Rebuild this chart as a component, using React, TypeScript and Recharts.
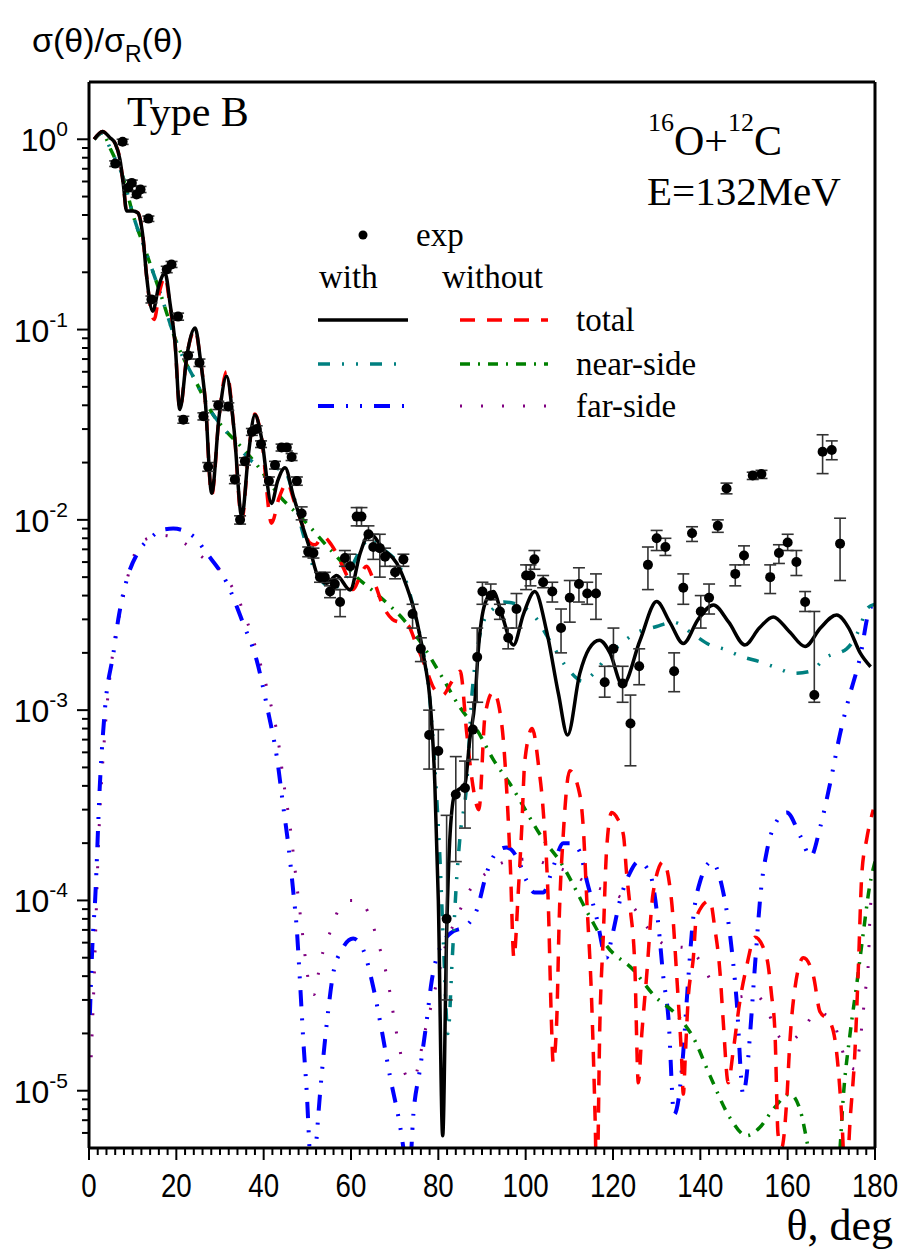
import React from "react";
import { ComposedChart, Line, Scatter, ErrorBar, XAxis, YAxis } from "recharts";

const W = 899;
const H = 1253;
const SERIF = '"Liberation Serif", "Times New Roman", serif';
const SANS = '"Liberation Sans", Arial, sans-serif';

// ticks
const X_MAJOR = [0, 20, 40, 60, 80, 100, 120, 140, 160, 180];
const X_MINOR_STEP = 2;
const Y_DECADES = [1e-5, 1e-4, 1e-3, 1e-2, 1e-1, 1];
const Y_EXPONENTS = ["-5", "-4", "-3", "-2", "-1", "0"];
const Y_MULT = [1, 2, 3, 4, 5, 6, 7, 8, 9];
const Y_MIN = 5e-6;
const Y_MAX = 2;

// experiment: [theta, value, low, high]
const expData: [number, number, number, number][] = [
  [6.0, 0.745, 0.72, 0.77], [7.7, 0.97, 0.94, 1.0], [9.0, 0.557, 0.54, 0.575],
  [9.8, 0.59, 0.57, 0.61], [10.9, 0.513, 0.495, 0.53], [11.8, 0.545, 0.525, 0.565],
  [13.6, 0.383, 0.37, 0.395], [14.3, 0.144, 0.138, 0.15], [17.8, 0.207, 0.199, 0.215],
  [18.9, 0.22, 0.212, 0.228], [20.4, 0.117, 0.112, 0.122], [21.6, 0.0336, 0.0322, 0.035],
  [22.7, 0.073, 0.07, 0.076], [25.3, 0.067, 0.064, 0.07], [26.2, 0.035, 0.0335, 0.0365],
  [27.3, 0.019, 0.018, 0.02], [29.6, 0.04, 0.038, 0.042], [31.9, 0.0394, 0.0376, 0.0412],
  [33.4, 0.0163, 0.0155, 0.0171], [34.6, 0.01, 0.0095, 0.0105], [35.7, 0.0203, 0.0194, 0.0212],
  [37.3, 0.029, 0.0278, 0.0302], [38.4, 0.03, 0.0288, 0.0312], [39.4, 0.025, 0.024, 0.026],
  [41.2, 0.016, 0.0152, 0.0168], [42.6, 0.0194, 0.0185, 0.0203], [44.1, 0.024, 0.023, 0.025],
  [45.3, 0.024, 0.023, 0.025], [46.4, 0.0214, 0.0205, 0.0223], [47.6, 0.016, 0.0152, 0.0168],
  [48.7, 0.0108, 0.01, 0.0117], [50.2, 0.0068, 0.0064, 0.0072], [51.4, 0.0067, 0.0063, 0.0071],
  [52.9, 0.005, 0.0047, 0.0053], [54.0, 0.005, 0.0047, 0.0053], [55.2, 0.0042, 0.0039, 0.0045],
  [56.3, 0.0046, 0.0043, 0.0049], [57.5, 0.0037, 0.0031, 0.0043], [58.6, 0.0063, 0.0057, 0.0069],
  [59.8, 0.0057, 0.005, 0.0066], [61.3, 0.0104, 0.0093, 0.0116], [62.4, 0.0104, 0.0093, 0.0116],
  [64.0, 0.0084, 0.0078, 0.0093], [65.1, 0.0072, 0.0062, 0.0084], [66.6, 0.0071, 0.005, 0.0084],
  [67.8, 0.0064, 0.0057, 0.0071], [70.1, 0.0053, 0.0049, 0.0057], [72.0, 0.0062, 0.0057, 0.0066],
  [74.1, 0.0032, 0.0027, 0.0036], [76.0, 0.0021, 0.0018, 0.0024], [77.9, 0.00074, 0.00049, 0.001],
  [80.0, 0.00061, 0.00049, 0.00079], [81.9, 0.00008, 0.00003, 0.00028], [84.0, 0.00036, 0.00016, 0.00057],
  [86.1, 0.00039, 0.00024, 0.00054], [87.9, 0.00079, 0.00055, 0.0011], [88.9, 0.0019, 0.0011, 0.0027],
  [90.1, 0.0042, 0.0036, 0.0047], [92.0, 0.004, 0.0038, 0.0046], [94.1, 0.0033, 0.003, 0.0036],
  [96.0, 0.0024, 0.0021, 0.0027], [97.9, 0.0034, 0.0027, 0.0041], [100.1, 0.0051, 0.0043, 0.0058],
  [101.1, 0.0051, 0.0045, 0.0058], [102.0, 0.0062, 0.0055, 0.0069], [104.0, 0.0047, 0.0044, 0.0051],
  [106.1, 0.0042, 0.0037, 0.0047], [108.1, 0.0027, 0.002, 0.0034], [110.1, 0.0039, 0.0029, 0.0048],
  [112.2, 0.0046, 0.0037, 0.0056], [114.1, 0.0041, 0.0036, 0.0047], [116.1, 0.0041, 0.003, 0.0052],
  [118.1, 0.0014, 0.00117, 0.0017], [120.1, 0.0021, 0.0017, 0.0027], [122.2, 0.00138, 0.0011, 0.0017],
  [124.0, 0.00085, 0.00051, 0.0012], [126.0, 0.0017, 0.00136, 0.0021], [128.0, 0.0058, 0.0043, 0.0072],
  [130.0, 0.008, 0.0069, 0.0088], [132.0, 0.0072, 0.0065, 0.008], [134.0, 0.0016, 0.00125, 0.002],
  [136.1, 0.0044, 0.0036, 0.0052], [138.1, 0.0085, 0.0077, 0.0092], [140.1, 0.0033, 0.0027, 0.004],
  [142.0, 0.0039, 0.0032, 0.0046], [144.0, 0.0093, 0.0086, 0.01], [146.0, 0.0146, 0.0137, 0.0156],
  [148.0, 0.0052, 0.0045, 0.0058], [150.0, 0.0065, 0.0058, 0.0073], [152.0, 0.0171, 0.0163, 0.0178],
  [154.0, 0.0174, 0.0165, 0.0182], [156.0, 0.005, 0.0041, 0.0058], [158.0, 0.0067, 0.0059, 0.0074],
  [160.0, 0.0076, 0.0069, 0.0084], [162.0, 0.006, 0.0051, 0.0069], [164.0, 0.0037, 0.0033, 0.0042],
  [166.1, 0.0012, 0.0011, 0.0033], [168.0, 0.0228, 0.0175, 0.028], [170.1, 0.0233, 0.0207, 0.026],
  [172.0, 0.0075, 0.0048, 0.0102],
];

// total, with (black solid)
const totalWith: [number, number][] = [
  [1.2, 1.0], [3.1, 1.1], [4.8, 1.02], [6.0, 0.95], [7.1, 0.78], [7.9, 0.57], [8.6, 0.42],
  [10.1, 0.42], [11.2, 0.41], [12.4, 0.3], [13.2, 0.19], [14.6, 0.125], [16.0, 0.17],
  [17.4, 0.198], [18.6, 0.135], [19.7, 0.085], [20.8, 0.038], [22.5, 0.075], [24.3, 0.102],
  [25.5, 0.07], [26.6, 0.043], [28.1, 0.0138], [29.8, 0.035], [31.5, 0.0568], [33.2, 0.03],
  [35.0, 0.0104], [36.5, 0.022], [38.0, 0.0357], [39.5, 0.027], [41.8, 0.0122], [43.2, 0.016],
  [44.9, 0.0188], [46.8, 0.0133], [48.7, 0.0096], [50.6, 0.007], [52.5, 0.005], [54.4, 0.00464],
  [56.7, 0.0051], [59.8, 0.00428], [62.1, 0.00668], [64.3, 0.0085], [67.4, 0.007], [70.5, 0.0059],
  [72.7, 0.0045], [75.0, 0.003], [76.9, 0.00177], [78.1, 0.00113], [79.2, 0.00041], [80.0, 0.0001],
  [81.0, 0.0000058], [81.9, 0.000067], [82.7, 0.000225], [83.8, 0.000365], [86.1, 0.00041],
  [87.2, 0.0007], [88.4, 0.00113], [89.1, 0.002], [90.7, 0.00364], [92.6, 0.0042], [94.5, 0.0032],
  [97.2, 0.0022], [99.5, 0.0032], [102.1, 0.0042], [104.8, 0.0026], [107.5, 0.00122],
  [109.6, 0.00074], [112.4, 0.00156], [114.5, 0.0021], [116.9, 0.00233], [119.3, 0.002],
  [122.2, 0.00135], [126.2, 0.00233], [130.0, 0.00372], [133.0, 0.0029], [136.1, 0.00224],
  [139.5, 0.003], [143.0, 0.00357], [146.5, 0.0029], [150.2, 0.0022], [153.5, 0.0027],
  [156.7, 0.00309], [160.3, 0.0026], [164.0, 0.00216], [167.5, 0.0027], [171.2, 0.00316],
  [174.0, 0.0027], [176.6, 0.002], [179.0, 0.00169],
];

// total, without (red dashed)
const totalWithout: [number, number][] = [
  [1.2, 1.0], [3.1, 1.1], [4.8, 1.02], [6.0, 0.95], [7.1, 0.78], [7.9, 0.57], [8.6, 0.42],
  [10.1, 0.42], [11.2, 0.41], [12.4, 0.3], [13.2, 0.19], [14.9, 0.113], [16.2, 0.16],
  [17.4, 0.19], [18.6, 0.13], [19.7, 0.085], [20.8, 0.038], [22.5, 0.075], [24.3, 0.1],
  [25.5, 0.07], [26.6, 0.043], [28.1, 0.0135], [29.8, 0.035], [31.5, 0.06], [33.2, 0.03],
  [35.0, 0.01], [36.5, 0.022], [38.0, 0.036], [39.5, 0.027], [41.8, 0.0096], [43.5, 0.013],
  [45.4, 0.0156], [47.0, 0.0125], [48.8, 0.0095], [50.5, 0.0076], [51.8, 0.0074], [53.5, 0.0082],
  [55.5, 0.0074], [57.5, 0.0061], [59.2, 0.005], [60.5, 0.0043], [62.0, 0.005], [63.5, 0.0057],
  [65.2, 0.0048], [67.4, 0.0035], [69.5, 0.003], [71.0, 0.0029], [73.0, 0.0028], [75.0, 0.0022],
  [77.0, 0.0017], [79.0, 0.0013], [81.0, 0.0012], [83.0, 0.0014], [85.0, 0.0016], [86.5, 0.00076],
  [87.6, 0.00045], [89.3, 0.0003], [90.7, 0.00094], [92.6, 0.00125], [94.5, 0.00085], [95.6, 0.0004],
  [96.5, 0.00015], [97.3, 0.00005], [98.3, 0.00011], [99.1, 0.00024], [99.8, 0.00054],
  [101.5, 0.0008], [103.0, 0.0005], [104.0, 0.0003], [105.2, 0.000093], [105.9, 0.000023],
  [106.3, 0.000014], [107.1, 0.000023], [107.7, 0.000082], [108.6, 0.00022], [110.1, 0.00048],
  [112.4, 0.00036], [113.2, 0.00024], [114.0, 0.0001], [115.1, 0.00003], [115.9, 0.0000072],
  [116.3, 0.000003], [117.0, 0.000023], [117.8, 0.000067], [118.5, 0.00018], [119.7, 0.00029],
  [121.0, 0.00027], [122.4, 0.00022], [123.1, 0.00014], [123.9, 0.000093], [125.0, 0.000045],
  [125.8, 0.000011], [126.6, 0.00002], [127.7, 0.00004], [129.2, 0.00011], [131.5, 0.00016],
  [133.4, 0.0001], [134.6, 0.00004], [135.7, 0.000015], [136.1, 0.0000096], [136.6, 0.000016],
  [137.2, 0.00003], [138.4, 0.00005], [139.1, 0.000082], [142.2, 0.0001], [143.3, 0.000072],
  [144.5, 0.000042], [145.2, 0.000024], [146.4, 0.000011], [147.5, 0.000016], [149.1, 0.00003],
  [150.6, 0.000045], [152.5, 0.000064], [155.2, 0.00005], [156.3, 0.000032], [157.1, 0.00002],
  [157.8, 0.0000059], [158.6, 0.000005], [159.8, 0.000009], [160.5, 0.000018], [161.7, 0.000035],
  [163.6, 0.00005], [165.9, 0.00004], [167.4, 0.000026], [169.7, 0.000023], [171.2, 0.000016],
  [172.4, 0.0000072], [173.3, 0.000003], [174.3, 0.000007], [175.4, 0.000016], [176.2, 0.000045],
  [177.0, 0.00014], [178.1, 0.00021], [179.6, 0.0003],
];

// near-side, with (teal)
const nearWith: [number, number][] = [
  [1.2, 1.0], [3.0, 1.08], [5.0, 0.88], [7.9, 0.62], [10.1, 0.4], [13.2, 0.25], [16.3, 0.156],
  [20.1, 0.085], [24.7, 0.052], [28.0, 0.037], [31.1, 0.0298], [35.0, 0.023], [39.2, 0.0191],
  [42.6, 0.0187], [44.9, 0.018], [46.8, 0.0135], [49.0, 0.0085], [52.1, 0.0052], [55.9, 0.0044],
  [59.0, 0.005], [61.3, 0.0064], [62.8, 0.0074], [64.5, 0.008], [67.4, 0.007], [70.5, 0.006],
  [72.7, 0.0047], [74.8, 0.0031], [76.6, 0.002], [77.8, 0.0013], [79.2, 0.0005], [80.4, 0.00016],
  [81.2, 0.000057], [82.2, 0.00002], [83.2, 0.00005], [84.2, 0.00013], [85.0, 0.00022],
  [86.5, 0.00041], [87.6, 0.00113], [89.1, 0.0022], [90.3, 0.0029], [92.5, 0.0034], [95.0, 0.0037],
  [98.0, 0.0036], [102.1, 0.0031], [105.6, 0.0023], [110.1, 0.0016], [113.0, 0.00142],
  [116.0, 0.0016], [118.5, 0.0019], [121.5, 0.0022], [124.7, 0.0025], [130.0, 0.00275],
  [133.8, 0.0029], [138.4, 0.0025], [142.2, 0.0022], [145.2, 0.0021], [149.8, 0.0019],
  [153.5, 0.0018], [157.5, 0.00167], [161.3, 0.00156], [165.1, 0.0016], [168.9, 0.0019],
  [173.5, 0.0021], [176.5, 0.0027], [178.1, 0.0034], [180.0, 0.0036],
];

// near-side, without (green)
const nearWithout: [number, number][] = [
  [1.2, 1.0], [3.0, 1.08], [5.0, 0.88], [7.9, 0.62], [10.1, 0.4], [13.2, 0.25], [16.3, 0.156],
  [20.1, 0.085], [24.7, 0.052], [28.0, 0.037], [31.1, 0.0298], [35.0, 0.024], [38.4, 0.0195],
  [43.7, 0.0133], [49.1, 0.01], [55.2, 0.007], [60.5, 0.0052], [67.4, 0.0038], [72.0, 0.003],
  [75.8, 0.0023], [80.8, 0.0015], [85.0, 0.00103], [88.8, 0.00079], [92.6, 0.00055],
  [96.4, 0.00041], [104.0, 0.00021], [107.9, 0.00016], [114.7, 0.000082], [118.5, 0.000058],
  [124.7, 0.000043], [129.2, 0.000032], [135.3, 0.000024], [138.4, 0.000019], [142.2, 0.000012],
  [146.8, 0.0000072], [150.6, 0.0000058], [153.6, 0.0000064], [156.7, 0.000008], [160.5, 0.0000096],
  [162.8, 0.000008], [164.7, 0.000005], [167.0, 0.0000025], [170.0, 0.0000022], [172.0, 0.000005],
  [172.7, 0.000009], [174.3, 0.00002], [175.8, 0.000036], [177.3, 0.000067], [178.8, 0.00012],
  [180.0, 0.00016],
];

// far-side, with (blue)
const farWith: [number, number][] = [
  [0.2, 0.000025], [0.8, 0.00006], [1.4, 0.0001], [2.5, 0.00041], [3.7, 0.00104], [5.6, 0.002],
  [6.7, 0.003], [8.6, 0.0048], [11.3, 0.0068], [14.0, 0.008], [17.0, 0.0089], [19.3, 0.009],
  [23.9, 0.0082], [26.9, 0.0067], [31.5, 0.0047], [35.3, 0.00286], [38.4, 0.00183], [41.1, 0.00096],
  [43.0, 0.00057], [44.5, 0.00031], [45.6, 0.0002], [46.8, 0.00011], [47.6, 0.00007],
  [48.3, 0.000038], [49.1, 0.000018], [49.9, 0.0000095], [50.6, 0.0000045], [51.2, 0.000003],
  [51.8, 0.0000045], [52.9, 0.0000096], [54.4, 0.000022], [55.9, 0.000041], [57.9, 0.000055],
  [60.5, 0.000063], [62.8, 0.000055], [65.1, 0.000035], [67.0, 0.000021], [68.9, 0.000012],
  [71.2, 0.0000066], [72.7, 0.000004], [73.3, 0.0000035], [74.3, 0.0000076], [75.8, 0.000013],
  [77.3, 0.000023], [78.5, 0.000038], [79.6, 0.00005], [81.0, 0.00006], [82.7, 0.000067],
  [86.5, 0.000074], [88.8, 0.000089], [91.1, 0.00014], [93.4, 0.00018], [95.6, 0.00019],
  [97.9, 0.00017], [100.2, 0.000127], [102.0, 0.00011], [104.0, 0.00011], [106.3, 0.00015],
  [108.6, 0.0002], [110.5, 0.0002], [112.4, 0.00018], [114.0, 0.000127], [116.2, 0.000082],
  [118.5, 0.00005], [119.8, 0.000065], [121.6, 0.0001], [123.9, 0.00014], [125.8, 0.00016],
  [128.4, 0.00014], [130.4, 0.000074], [131.5, 0.00004], [132.7, 0.000024], [134.0, 0.0000075],
  [135.0, 0.000009], [136.1, 0.000016], [136.9, 0.00003], [138.4, 0.000082], [140.0, 0.000127],
  [142.6, 0.00016], [144.9, 0.00012], [146.8, 0.000066], [148.3, 0.00003], [149.8, 0.0000096],
  [150.6, 0.000012], [151.4, 0.00002], [152.5, 0.000045], [154.0, 0.00012], [155.2, 0.00018],
  [156.7, 0.00024], [159.8, 0.00029], [162.8, 0.00022], [165.3, 0.00017], [167.4, 0.00024],
  [169.7, 0.00041], [172.0, 0.00075], [173.9, 0.00113], [176.6, 0.0019], [178.8, 0.0034],
  [180.0, 0.0036],
];

// far-side, without (purple)
const farWithout: [number, number][] = [
  [0.5, 0.000015], [1.2, 0.00004], [2.1, 0.00018], [3.7, 0.0008], [5.2, 0.0018], [7.5, 0.0036],
  [9.8, 0.006], [12.4, 0.0078], [17.0, 0.0083], [21.6, 0.0076], [26.2, 0.0063], [30.8, 0.0052],
  [33.8, 0.004], [38.8, 0.0019], [41.4, 0.00113], [43.3, 0.0007], [44.5, 0.00043], [46.0, 0.00025],
  [47.6, 0.00012], [48.7, 0.000073], [49.9, 0.000043], [50.6, 0.000034], [51.5, 0.000032],
  [52.5, 0.000041], [53.6, 0.000054], [55.2, 0.000068], [57.1, 0.000089], [59.5, 0.0001],
  [61.7, 0.0001], [64.7, 0.000078], [66.2, 0.00006], [67.4, 0.000048], [68.5, 0.000037],
  [69.3, 0.000029], [70.1, 0.000022], [71.1, 0.000017], [72.0, 0.000013], [73.5, 0.0000115],
  [74.3, 0.0000115], [75.8, 0.000015], [76.6, 0.000019], [77.7, 0.000024], [78.8, 0.000031],
  [80.0, 0.00004], [81.1, 0.000052], [84.6, 0.000085], [86.9, 0.00011], [91.1, 0.00014],
  [95.6, 0.00016], [100.6, 0.000165], [105.0, 0.000155], [110.1, 0.00014], [115.0, 0.00012],
  [119.5, 0.00011], [124.3, 0.000094], [128.1, 0.000071], [132.3, 0.000058], [137.2, 0.000056],
  [140.7, 0.000045], [143.3, 0.000035], [147.9, 0.000031], [152.5, 0.000032], [155.5, 0.000026],
  [157.5, 0.00002], [160.0, 0.000018], [163.6, 0.000021], [166.6, 0.000026], [170.4, 0.000023],
  [172.0, 0.000018], [173.5, 0.000014], [175.4, 0.000013], [177.0, 0.000022], [177.7, 0.000032],
  [178.5, 0.000048], [178.8, 0.000078], [179.5, 0.00012],
];

const rows = (pts: [number, number][]) => pts.map(([x, y]) => ({ x, y }));
const expRows = expData.map(([x, y, lo, hi]) => ({ x, y, err: [y - lo, hi - y] }));

const xTicks: number[] = [];
for (let t = 0; t <= 180; t += X_MINOR_STEP) xTicks.push(t);
const yTicks: number[] = [];
[6e-6, 7e-6, 8e-6, 9e-6].forEach((v) => yTicks.push(v));
Y_DECADES.forEach((d) => Y_MULT.forEach((m) => yTicks.push(m * d)));
const yTicksInRange = yTicks.filter((v) => v >= Y_MIN && v < Y_MAX);

const decadeIndex = (v: number) =>
  Y_DECADES.findIndex((d) => Math.abs(v - d) / d < 1e-6);

const XTick = (props: any) => {
  const { x, y, payload } = props;
  const v = payload.value;
  const major = X_MAJOR.includes(v);
  return (
    <g>
      <line x1={x} y1={y} x2={x} y2={y + (major ? 12 : 7)} stroke="#000" strokeWidth={2} />
      {major && (
        <text
          transform={`translate(${x},${y + 49}) scale(0.84,1)`}
          textAnchor="middle"
          fontFamily={SANS}
          fontSize={33}
          fill="#000"
        >
          {v}
        </text>
      )}
    </g>
  );
};

const TopTick = (props: any) => {
  const { x, y } = props;
  return <line x1={x} y1={y} x2={x} y2={y - 4} stroke="#000" strokeWidth={1.5} />;
};

const YTick = (props: any) => {
  const { x, y, payload } = props;
  const i = decadeIndex(payload.value);
  const major = i >= 0;
  return (
    <g>
      <line x1={x} y1={y} x2={x - (major ? 12 : 7)} y2={y} stroke="#000" strokeWidth={2} />
      {major && (
        <text x={x - 21} y={y + 12} textAnchor="end" fontFamily={SANS} fill="#000">
          <tspan fontSize={32}>10</tspan>
          <tspan fontSize={21} dy={-15}>{Y_EXPONENTS[i]}</tspan>
        </text>
      )}
    </g>
  );
};

const Dot = (p: any) => <circle cx={p.cx} cy={p.cy} r={5} fill="#000" />;

const STYLES = {
  black: { stroke: "#000000", width: 3.5, dash: undefined as string | undefined },
  red: { stroke: "#ff0000", width: 3.5, dash: "15 12" },
  teal: { stroke: "#008080", width: 3.5, dash: "12 12 2 12 2 12" },
  green: { stroke: "#008000", width: 3.5, dash: "10 8 2 8" },
  blue: { stroke: "#0000ff", width: 4, dash: "16 12 2 12 2 12" },
  purple: { stroke: "#800080", width: 3, dash: "2 19" },
};

function Legend() {
  const rowsL = [
    { y: 320, a: STYLES.black, b: STYLES.red, label: "total" },
    { y: 364, a: STYLES.teal, b: STYLES.green, label: "near-side" },
    { y: 406, a: STYLES.blue, b: STYLES.purple, label: "far-side" },
  ];
  return (
    <g fontFamily={SERIF} fontSize={33} fill="#000">
      <circle cx={363} cy={235} r={4.5} fill="#000" />
      <text x={416} y={246}>exp</text>
      <text x={319} y={288}>with</text>
      <text x={442} y={288}>without</text>
      {rowsL.map((r) => (
        <g key={r.label}>
          <line x1={318} x2={408} y1={r.y} y2={r.y} stroke={r.a.stroke} strokeWidth={r.a.width} strokeDasharray={r.a.dash} />
          <line x1={460} x2={548} y1={r.y} y2={r.y} stroke={r.b.stroke} strokeWidth={r.b.width} strokeDasharray={r.b.dash} />
          <text x={576} y={r.y + 11}>{r.label}</text>
        </g>
      ))}
    </g>
  );
}

export default function App() {
  const series = [
    { key: "farWithout", data: farWithout, s: STYLES.purple },
    { key: "farWith", data: farWith, s: STYLES.blue },
    { key: "nearWithout", data: nearWithout, s: STYLES.green },
    { key: "nearWith", data: nearWith, s: STYLES.teal },
    { key: "totalWithout", data: totalWithout, s: STYLES.red },
    { key: "totalWith", data: totalWith, s: STYLES.black },
  ];
  return (
    <div style={{ position: "relative", width: W, height: H, background: "#fff", overflow: "hidden" }}>
      <style>{"body{margin:0;overflow:hidden}"}</style>
      <ComposedChart width={W} height={H} margin={{ top: 0, right: 0, bottom: 0, left: 0 }}>
        <XAxis
          dataKey="x"
          type="number"
          domain={[0, 180]}
          ticks={xTicks}
          interval={0}
          allowDataOverflow
          height={105}
          tickSize={0}
          tickMargin={0}
          tickLine={false}
          tick={<XTick />}
          axisLine={{ stroke: "#000", strokeWidth: 3 }}
        />
        <XAxis
          xAxisId="top"
          orientation="top"
          dataKey="x"
          type="number"
          domain={[0, 180]}
          ticks={xTicks}
          interval={0}
          height={82}
          tickSize={0}
          tickMargin={0}
          tickLine={false}
          tick={<TopTick />}
          axisLine={{ stroke: "#000", strokeWidth: 3 }}
        />
        <YAxis
          dataKey="y"
          type="number"
          scale="log"
          domain={[Y_MIN, Y_MAX]}
          ticks={yTicksInRange}
          interval={0}
          allowDataOverflow
          width={89}
          tickSize={0}
          tickMargin={0}
          tickLine={false}
          tick={<YTick />}
          axisLine={{ stroke: "#000", strokeWidth: 3 }}
        />
        <YAxis
          yAxisId="right"
          orientation="right"
          type="number"
          domain={[0, 1]}
          width={24}
          tick={false}
          tickLine={false}
          axisLine={{ stroke: "#000", strokeWidth: 3 }}
        />
        {series.map(({ key, data, s }) => (
          <Line
            key={key}
            data={rows(data)}
            dataKey="y"
            type="monotone"
            stroke={s.stroke}
            strokeWidth={s.width}
            strokeDasharray={s.dash}
            dot={false}
            activeDot={false}
            isAnimationActive={false}
          />
        ))}
        <Scatter data={expRows} dataKey="y" shape={<Dot />} isAnimationActive={false}>
          <ErrorBar dataKey="err" direction="y" width={6} stroke="#333" strokeWidth={1.6} />
        </Scatter>
      </ComposedChart>
      <svg width={W} height={H} style={{ position: "absolute", left: 0, top: 0, pointerEvents: "none" }}>
        <text x={32} y={52} fontFamily={SANS} fontSize={34} fill="#000">
          σ(θ)/σ<tspan fontSize={23} dy={10}>R</tspan><tspan dy={-10}>(θ)</tspan>
        </text>
        <text x={127} y={126} fontFamily={SERIF} fontSize={42} fill="#000">Type B</text>
        <text x={648} y={155} fontFamily={SERIF} fontSize={42} fill="#000">
          <tspan fontSize={26} dy={-24}>16</tspan>
          <tspan dy={24}>O+</tspan>
          <tspan fontSize={26} dy={-24}>12</tspan>
          <tspan dy={24}>C</tspan>
        </text>
        <text x={647} y={205} fontFamily={SERIF} fontSize={41} fill="#000">E=132MeV</text>
        <text x={893} y={1240} textAnchor="end" fontFamily={SERIF} fontSize={44} fill="#000">θ, deg</text>
        <Legend />
      </svg>
    </div>
  );
}
